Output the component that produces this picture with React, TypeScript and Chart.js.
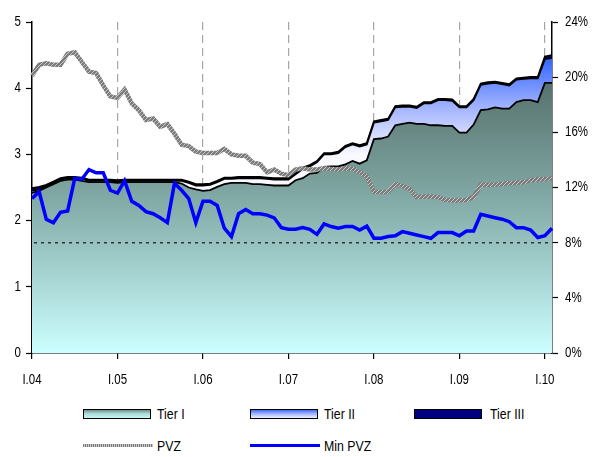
import React, { useEffect, useRef } from "react";
import { Chart, registerables } from "chart.js";

Chart.register(...registerables);

// ---------- data ----------
const ROMAN_MONTHS = ["I", "II", "III", "IV", "V", "VI", "VII", "VIII", "IX", "X", "XI", "XII"];
const YEARS = ["04", "05", "06", "07", "08", "09", "10"];
const MONTH_COUNT = 74; // I.04 .. II.10
const LABELS = YEARS.flatMap((y) => ROMAN_MONTHS.map((m) => `${m}.${y}`)).slice(0, MONTH_COUNT);
const LABEL_EVERY = 12;

// capital tiers (left axis)
const TIER_I = [
  2.42, 2.45, 2.5, 2.55, 2.6, 2.62, 2.62, 2.6, 2.58, 2.58,
  2.58, 2.58, 2.57, 2.58, 2.58, 2.58, 2.58, 2.58, 2.58, 2.58,
  2.58, 2.56, 2.5, 2.47, 2.45, 2.46, 2.51, 2.55, 2.57, 2.57,
  2.57, 2.55, 2.55, 2.54, 2.53, 2.53, 2.53, 2.61, 2.64, 2.71,
  2.72, 2.81, 2.82, 2.82, 2.85, 2.9, 2.86, 2.91, 3.23, 3.24,
  3.27, 3.44, 3.46, 3.48, 3.46, 3.46, 3.44, 3.44, 3.43, 3.43,
  3.33, 3.33, 3.45, 3.67, 3.68, 3.71, 3.69, 3.69, 3.79, 3.82,
  3.82, 3.79, 4.08, 4.08,
];
const TIER_II = [
  0.03, 0.02, 0.02, 0.02, 0.02, 0.02, 0.02, 0.03, 0.02, 0.02,
  0.02, 0.02, 0.02, 0.02, 0.02, 0.02, 0.02, 0.02, 0.02, 0.02,
  0.02, 0.04, 0.07, 0.06, 0.08, 0.08, 0.07, 0.08, 0.06, 0.07,
  0.07, 0.09, 0.09, 0.09, 0.09, 0.09, 0.09, 0.09, 0.14, 0.11,
  0.16, 0.19, 0.18, 0.2, 0.26, 0.25, 0.26, 0.24, 0.25, 0.26,
  0.25, 0.27, 0.26, 0.24, 0.24, 0.31, 0.33, 0.38, 0.39, 0.38,
  0.38, 0.38, 0.37, 0.38, 0.39, 0.37, 0.37, 0.35, 0.34, 0.32,
  0.33, 0.36, 0.36, 0.38,
];
const TIER_III = [
  0.04, 0.04, 0.02, 0.02, 0.02, 0.02, 0.02, 0.02, 0.02, 0.02,
  0.02, 0.02, 0.02, 0.02, 0.02, 0.02, 0.02, 0.02, 0.02, 0.02,
  0.02, 0.02, 0.02, 0.02, 0.02, 0.02, 0.02, 0.02, 0.02, 0.02,
  0.02, 0.02, 0.02, 0.02, 0.02, 0.02, 0.02, 0.02, 0.02, 0.02,
  0.02, 0.02, 0.02, 0.02, 0.02, 0.02, 0.02, 0.02, 0.02, 0.02,
  0.02, 0.02, 0.02, 0.02, 0.02, 0.02, 0.02, 0.02, 0.02, 0.02,
  0.02, 0.02, 0.02, 0.02, 0.02, 0.02, 0.02, 0.02, 0.02, 0.02,
  0.02, 0.02, 0.04, 0.04,
];

// ratios (right axis, %)
const PVZ = [
  20.1, 20.9, 21.0, 20.9, 20.9, 21.7, 21.8, 21.1, 20.4, 20.3,
  19.4, 18.6, 18.5, 19.1, 18.1, 17.6, 16.9, 17.0, 16.4, 16.6,
  15.9, 15.1, 15.0, 14.6, 14.5, 14.5, 14.5, 14.8, 14.4, 14.3,
  14.3, 13.8, 13.7, 13.1, 13.3, 13.0, 12.9, 13.3, 13.4, 13.3,
  13.3, 13.4, 13.35, 13.3, 13.4, 13.35, 13.1, 12.8, 11.7, 11.65,
  11.7, 12.25, 12.1, 11.9, 11.3, 11.35, 11.35, 11.3, 11.1, 11.05,
  11.05, 11.1, 11.3, 12.2, 12.2, 12.2, 12.25, 12.3, 12.35, 12.4,
  12.5, 12.6, 12.6, 12.65,
];
const MIN_PVZ = [
  11.2, 11.7, 9.7, 9.45, 10.2, 10.3, 12.66, 12.6, 13.3, 13.07,
  13.07, 11.8, 11.6, 12.5, 11.0, 10.7, 10.25, 10.1, 9.8, 9.45,
  12.3, 11.8, 11.2, 9.45, 11.0, 11.0, 10.7, 9.05, 8.44, 10.1,
  10.4, 10.1, 10.1, 10.0, 9.8, 9.09, 8.97, 8.97, 9.09, 8.97,
  8.6, 9.36, 9.17, 9.05, 9.17, 9.17, 8.92, 9.2, 8.32, 8.32,
  8.44, 8.5, 8.8, 8.68, 8.56, 8.44, 8.32, 8.73, 8.73, 8.73,
  8.5, 8.85, 8.85, 10.06, 9.93, 9.81, 9.7, 9.52, 9.09, 9.09,
  8.92, 8.37, 8.5, 9.05,
];
const MIN_RATIO = 8; // regulatory minimum, %

const LEFT_TICKS = { min: 0, max: 5, step: 1 };
const RIGHT_TICKS = { min: 0, max: 24, step: 4 };

// ---------- styles ----------
const FONT = '"Liberation Sans", Arial, sans-serif';
const CONDENSE = 0.82;
const TICK_FONT = `14px ${FONT}`;

function makePvzPattern(ctx: CanvasRenderingContext2D) {
  const pc = document.createElement("canvas");
  pc.width = 4;
  pc.height = 4;
  const g = pc.getContext("2d")!;
  g.fillStyle = "#7c7c7c";
  g.fillRect(0, 0, 4, 4);
  g.fillStyle = "#c8c8c8";
  g.fillRect(0, 0, 1, 1);
  g.fillRect(2, 2, 1, 1);
  g.fillRect(1, 3, 1, 1);
  g.fillRect(3, 1, 1, 1);
  return ctx.createPattern(pc, "repeat") || "#8a8a8a";
}

const thresholdPlugin = {
  id: "minRatioLine",
  afterDatasetsDraw(chart: any) {
    const { ctx, chartArea, scales } = chart;
    const y = scales.y1.getPixelForValue(MIN_RATIO);
    ctx.save();
    ctx.strokeStyle = "#333333";
    ctx.lineWidth = 1.5;
    ctx.setLineDash([3, 4]);
    ctx.beginPath();
    ctx.moveTo(chartArea.left + 2, y);
    ctx.lineTo(chartArea.right, y);
    ctx.stroke();
    ctx.restore();
  },
};

function drawCondensed(ctx: CanvasRenderingContext2D, text: string, x: number, y: number, align: CanvasTextAlign, baseline: CanvasTextBaseline) {
  ctx.save();
  ctx.translate(x, y);
  ctx.scale(CONDENSE, 1);
  ctx.textAlign = align;
  ctx.textBaseline = baseline;
  ctx.fillText(text, 0, 0);
  ctx.restore();
}

// narrow tick labels drawn from the library's own scales
const tickLabelPlugin = {
  id: "narrowTickLabels",
  afterDraw(chart: any) {
    const { ctx, chartArea, scales } = chart;
    ctx.save();
    ctx.font = TICK_FONT;
    ctx.fillStyle = "#000000";
    scales.x.ticks.forEach((_t: any, i: number) => {
      if (i % LABEL_EVERY !== 0) return;
      drawCondensed(ctx, LABELS[i], scales.x.getPixelForTick(i), chartArea.bottom + 20, "center", "top");
    });
    scales.y.ticks.forEach((t: any, i: number) => {
      drawCondensed(ctx, String(t.value), chartArea.left - 11, scales.y.getPixelForTick(i), "right", "middle");
    });
    scales.y1.ticks.forEach((t: any, i: number) => {
      drawCondensed(ctx, `${t.value}%`, chartArea.right + 13, scales.y1.getPixelForTick(i), "left", "middle");
    });
    ctx.restore();
  },
};

export default function App() {
  const ref = useRef<HTMLCanvasElement | null>(null);

  useEffect(() => {
    document.body.style.margin = "0";
    const canvas = ref.current!;
    const ctx = canvas.getContext("2d")!;
    const pvzPattern = makePvzPattern(ctx);

    const tier1Fill = (c: any) => {
      const { chart } = c;
      if (!chart.chartArea) return "#9fcfcc";
      const ys = chart.scales.y;
      const g = chart.ctx.createLinearGradient(0, ys.getPixelForValue(4.2), 0, ys.getPixelForValue(0));
      g.addColorStop(0, "rgb(84,110,106)");
      g.addColorStop(0.45, "rgb(130,170,166)");
      g.addColorStop(1, "rgb(204,255,255)");
      return g;
    };
    const tier2Fill = (c: any) => {
      const { chart } = c;
      if (!chart.chartArea) return "#aabbff";
      const ys = chart.scales.y;
      const g = chart.ctx.createLinearGradient(0, ys.getPixelForValue(4.45), 0, ys.getPixelForValue(3.0));
      g.addColorStop(0, "rgb(51,102,255)");
      g.addColorStop(0.5, "rgb(160,178,255)");
      g.addColorStop(1, "rgb(248,248,255)");
      return g;
    };

    const chart = new Chart(canvas, {
      type: "line",
      data: {
        labels: LABELS,
        datasets: [
          {
            label: "Tier I",
            data: TIER_I,
            yAxisID: "y",
            fill: "origin",
            backgroundColor: tier1Fill,
            borderColor: "#000000",
            borderWidth: 1.8,
            pointRadius: 0,
            order: 3,
          },
          {
            label: "Tier II",
            data: TIER_II,
            yAxisID: "y",
            fill: "-1",
            backgroundColor: tier2Fill,
            borderColor: "#000000",
            borderWidth: 1.8,
            pointRadius: 0,
            order: 4,
          },
          {
            label: "Tier III",
            data: TIER_III,
            yAxisID: "y",
            fill: "-1",
            backgroundColor: "#000080",
            borderColor: "#000000",
            borderWidth: 1.8,
            pointRadius: 0,
            order: 5,
          },
          {
            label: "PVZ",
            data: PVZ,
            yAxisID: "y1",
            fill: false,
            borderColor: pvzPattern as any,
            borderWidth: 4.5,
            pointRadius: 0,
            order: 1,
          },
          {
            label: "Min PVZ",
            data: MIN_PVZ,
            yAxisID: "y1",
            fill: false,
            borderColor: "#0000ff",
            borderWidth: 3.5,
            pointRadius: 0,
            order: 0,
          },
        ],
      },
      options: {
        responsive: false,
        animation: false,
        layout: { padding: { top: 22, left: 0, right: 0, bottom: 0 } },
        plugins: { legend: { display: false }, tooltip: { enabled: false } },
        elements: { line: { tension: 0 } },
        scales: {
          x: {
            type: "category",
            offset: false,
            grid: {
              color: (c: any) => (c.index % LABEL_EVERY === 0 && c.index > 0 ? "#a6a6a6" : "rgba(0,0,0,0)"),
              tickColor: (c: any) => (c.index % LABEL_EVERY === 0 ? "#000000" : "rgba(0,0,0,0)"),
              lineWidth: 1.2,
              tickLength: 6,
              tickWidth: 1.2,
            },
            border: { display: true, color: "#000000", width: 1.5, dash: [8, 5] },
            ticks: { display: false, autoSkip: false, maxRotation: 0, minRotation: 0 },
            afterFit: (s: any) => {
              s.height = 47;
            },
          },
          y: {
            position: "left",
            stacked: true,
            min: LEFT_TICKS.min,
            max: LEFT_TICKS.max,
            grid: { drawOnChartArea: false, tickLength: 6, tickColor: "#000000", tickWidth: 1.2 },
            border: { display: true, color: "#000000", width: 1.5 },
            ticks: { display: false, stepSize: LEFT_TICKS.step },
            afterFit: (s: any) => {
              s.width = 32;
            },
          },
          y1: {
            position: "right",
            min: RIGHT_TICKS.min,
            max: RIGHT_TICKS.max,
            grid: { drawOnChartArea: false, tickLength: 6, tickColor: "#000000", tickWidth: 1.2 },
            border: { display: true, color: "#000000", width: 1.5 },
            ticks: { display: false, stepSize: RIGHT_TICKS.step },
            afterFit: (s: any) => {
              s.width = 40;
            },
          },
        },
      },
      plugins: [thresholdPlugin, tickLabelPlugin],
    });

    return () => chart.destroy();
  }, []);

  const text: React.CSSProperties = {
    position: "absolute",
    fontFamily: FONT,
    fontSize: 15,
    color: "#000",
    lineHeight: "16px",
    whiteSpace: "nowrap",
    transform: `scaleX(${CONDENSE})`,
    transformOrigin: "left center",
  };
  const box = (left: number, bg: string): React.CSSProperties => ({
    position: "absolute",
    left,
    top: 409,
    width: 66,
    height: 8,
    border: "1.5px solid #000",
    background: bg,
  });
  const line = (left: number, bg: string): React.CSSProperties => ({
    position: "absolute",
    left,
    top: 444,
    width: 70,
    height: 3,
    background: bg,
  });

  return (
    <div style={{ position: "relative", width: 592, height: 457, overflow: "hidden", background: "#fff" }}>
      <canvas ref={ref} width={592} height={400} style={{ position: "absolute", left: 0, top: 0 }} />
      <div style={box(83, "linear-gradient(#6f8f8a 0%, #a9dcd8 45%, #c8f6f2 100%)")} />
      <div style={{ ...text, left: 157, top: 406 }}>Tier I</div>
      <div style={box(250, "linear-gradient(#3f6cff 0%, #9fb2ff 45%, #eef0ff 100%)")} />
      <div style={{ ...text, left: 324, top: 406 }}>Tier II</div>
      <div style={box(414, "#000080")} />
      <div style={{ ...text, left: 490, top: 406 }}>Tier III</div>
      <div
        style={line(
          83,
          "repeating-linear-gradient(90deg, #7c7c7c 0px, #7c7c7c 1px, #c8c8c8 1px, #c8c8c8 2px)"
        )}
      />
      <div style={{ ...text, left: 157, top: 438 }}>PVZ</div>
      <div style={line(250, "#0000ff")} />
      <div style={{ ...text, left: 324, top: 438 }}>Min PVZ</div>
    </div>
  );
}
